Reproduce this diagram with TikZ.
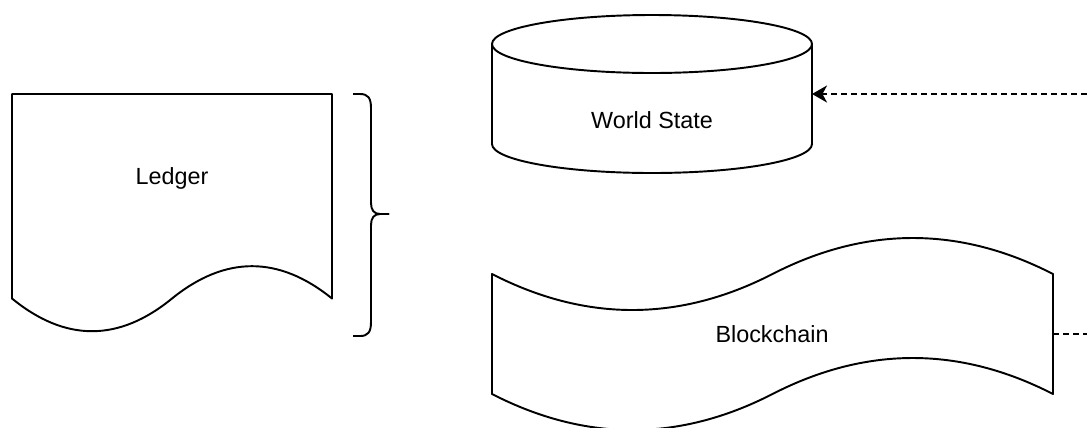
\documentclass[tikz,border=0pt]{standalone}
\usepackage{fontspec}
\setmainfont{Liberation Sans}
\usetikzlibrary{arrows.meta}

\tikzset{
  shapeline/.style={line width=1.1pt, line join=round},
  dashline/.style={line width=1.1pt, dash pattern=on 3.4pt off 2.3pt},
  label/.style={font=\fontsize{13.3}{16}\selectfont}
}

\begin{document}
\begin{tikzpicture}[x=0.02cm, y=-0.02cm]
\useasboundingbox (0,0) rectangle (1087,427);

% ledger document
\draw[shapeline] (12,94) -- (332,94) -- (332,298.5)
  .. controls (278.7,255.4) and (225.3,255.4) .. (172,298.5)
  .. controls (118.7,342.1) and (65.3,342.1) .. (12,298.5) -- cycle;
\node[label] (ledger) at (172,178) {Ledger};

% curly bracket
\draw[shapeline] (353,94) -- (360,94) .. controls (368,94) and (371,98) .. (371,108) -- (371,203)
  .. controls (371,210) and (374,214) .. (380,214) -- (389,214);
\draw[shapeline] (389,214) -- (380,214) .. controls (374,214) and (371,218) .. (371,225) -- (371,322)
  .. controls (371,332) and (368,336) .. (360,336) -- (353,336);

% world state cylinder
\draw[shapeline] (492,44) -- (492,144) arc[start angle=180, end angle=0, x radius=160, y radius=29] -- (812,44);
\draw[shapeline] (652,44) ellipse[x radius=160, y radius=29];
\node[label] (world) at (652,120) {World State};

% blockchain tape
\draw[shapeline] (492,274)
  .. controls (585.5,322) and (679,322) .. (772.5,274)
  .. controls (866,226) and (959.5,226) .. (1053,274) -- (1053,394)
  .. controls (959.5,346) and (866,346) .. (772.5,394)
  .. controls (679,442) and (585.5,442) .. (492,394) -- cycle;
\node[label] (chain) at (772,334) {Blockchain};

\coordinate (worldport) at (812,94);
\coordinate (worldfrom) at (1087,94);
\coordinate (chainport) at (1053,334);
\coordinate (chainto) at (1087,334);

\draw[dashline, -{Stealth[length=0.3cm, width=0.34cm, inset=0.09cm]}] (worldfrom) -- (worldport);
\draw[dashline] (chainport) -- (chainto);

\end{tikzpicture}
\end{document}
